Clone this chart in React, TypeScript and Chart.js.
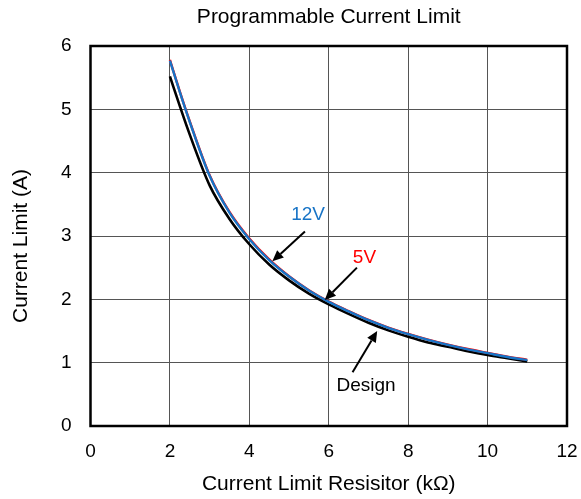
import React, { useEffect, useRef } from "react";
import { Chart, registerables } from "chart.js";

Chart.register(...registerables);

const resistance = [2, 2.25, 2.5, 3, 3.5, 4, 4.5, 5, 5.5, 6, 6.5, 7, 7.5, 8, 8.5, 9, 9.5, 10, 10.5, 11];
const design = [5.52, 5.05, 4.6, 3.8, 3.27, 2.87, 2.55, 2.3, 2.09, 1.92, 1.77, 1.63, 1.51, 1.41, 1.32, 1.25, 1.18, 1.12, 1.07, 1.02];
const v5 = [5.78, 5.28, 4.81, 3.96, 3.38, 2.96, 2.63, 2.365, 2.145, 1.965, 1.815, 1.675, 1.555, 1.455, 1.365, 1.285, 1.215, 1.155, 1.095, 1.045];
const v12 = [5.77, 5.27, 4.8, 3.95, 3.37, 2.95, 2.62, 2.36, 2.14, 1.96, 1.81, 1.67, 1.55, 1.45, 1.36, 1.28, 1.21, 1.15, 1.09, 1.04];

const xTicks = [0, 2, 4, 6, 8, 10, 12];
const yTicks = [0, 1, 2, 3, 4, 5, 6];

const chartTitle = "Programmable Current Limit";
const xTitle = "Current Limit Resisitor (kΩ)";
const yTitle = "Current Limit (A)";

// annotations: label position and arrow (tail -> head) in data units
const annotations = [
  { text: "12V", color: "#1874C6", lx: 5.48, ly: 3.33, tx: 5.4, ty: 3.07, hx: 4.58, hy: 2.6 },
  { text: "5V", color: "#FF0000", lx: 6.9, ly: 2.65, tx: 6.71, ty: 2.5, hx: 5.9, hy: 1.99 },
  { text: "Design", color: "#000000", lx: 6.94, ly: 0.63, tx: 6.6, ty: 0.85, hx: 7.22, hy: 1.5 },
];

const FONT = "Arial, 'Liberation Sans', sans-serif";

const drawPlugin = {
  id: "drawExtras",
  afterDraw(chart: any) {
    const { ctx, chartArea, scales } = chart;
    const { left, right, top, bottom } = chartArea;
    ctx.save();
    // border box
    ctx.strokeStyle = "#000";
    ctx.lineWidth = 2.5;
    ctx.strokeRect(left, top, right - left, bottom - top);

    // title
    ctx.fillStyle = "#000";
    ctx.font = `21px ${FONT}`;
    ctx.textAlign = "center";
    ctx.textBaseline = "middle";
    ctx.fillText(chartTitle, (left + right) / 2, 17);

    // x title
    ctx.fillText(xTitle, (left + right) / 2, 484);

    // y title
    ctx.save();
    ctx.translate(21, (top + bottom) / 2 + 10);
    ctx.rotate(-Math.PI / 2);
    ctx.fillText(yTitle, 0, 0);
    ctx.restore();

    // annotations
    for (const a of annotations) {
      const px = scales.x.getPixelForValue(a.lx);
      const py = scales.y.getPixelForValue(a.ly);
      ctx.fillStyle = a.color;
      ctx.font = `19px ${FONT}`;
      ctx.fillText(a.text, px, py);

      const x1 = scales.x.getPixelForValue(a.tx);
      const y1 = scales.y.getPixelForValue(a.ty);
      const x2 = scales.x.getPixelForValue(a.hx);
      const y2 = scales.y.getPixelForValue(a.hy);
      const ang = Math.atan2(y2 - y1, x2 - x1);
      const headLen = 11;
      const headW = 5;
      const bx = x2 - headLen * Math.cos(ang);
      const by = y2 - headLen * Math.sin(ang);
      ctx.strokeStyle = "#000";
      ctx.lineWidth = 2;
      ctx.beginPath();
      ctx.moveTo(x1, y1);
      ctx.lineTo(bx, by);
      ctx.stroke();
      ctx.fillStyle = "#000";
      ctx.beginPath();
      ctx.moveTo(x2, y2);
      ctx.lineTo(bx + headW * Math.sin(ang), by - headW * Math.cos(ang));
      ctx.lineTo(bx - headW * Math.sin(ang), by + headW * Math.cos(ang));
      ctx.closePath();
      ctx.fill();
    }
    ctx.restore();
  },
};

export default function App() {
  const ref = useRef<HTMLCanvasElement>(null);
  useEffect(() => {
    document.body.style.margin = "0";
    const canvas = ref.current!;
    const mk = (vals: number[]) => resistance.map((x, i) => ({ x, y: vals[i] }));
    const chart = new Chart(canvas, {
      type: "line",
      data: {
        datasets: [
          { label: "12V", data: mk(v12), borderColor: "#1874C6", borderWidth: 2.4, pointRadius: 0, cubicInterpolationMode: "monotone", order: 0 },
          { label: "5V", data: mk(v5), borderColor: "#FF0000", borderWidth: 2.4, pointRadius: 0, cubicInterpolationMode: "monotone", order: 1 },
          { label: "Design", data: mk(design), borderColor: "#000000", borderWidth: 2.6, pointRadius: 0, cubicInterpolationMode: "monotone", order: 2 },
        ],
      },
      options: {
        responsive: false,
        animation: false,
        layout: { padding: { top: 46, right: 14, left: 0, bottom: 0 } },
        plugins: { legend: { display: false }, tooltip: { enabled: false }, title: { display: false } },
        scales: {
          x: {
            type: "linear",
            min: 0,
            max: 12,
            afterBuildTicks: (s: any) => { s.ticks = xTicks.map((v) => ({ value: v })); },
            afterFit: (s: any) => { s.height = 73; s.paddingLeft = 0; s.paddingRight = 0; },
            grid: { color: "#555", lineWidth: 1, drawTicks: false },
            border: { display: false },
            ticks: { color: "#000", font: { size: 19, family: FONT }, padding: 14, maxRotation: 0 },
          },
          y: {
            type: "linear",
            min: 0,
            max: 6,
            afterBuildTicks: (s: any) => { s.ticks = yTicks.map((v) => ({ value: v })); },
            afterFit: (s: any) => { s.width = 90.5; s.paddingTop = 0; s.paddingBottom = 0; },
            grid: { color: "#555", lineWidth: 1, drawTicks: false },
            border: { display: false },
            ticks: { color: "#000", font: { size: 19, family: FONT }, padding: 19 },
          },
        },
      },
      plugins: [drawPlugin],
    } as any);
    return () => chart.destroy();
  }, []);
  return (
    <div style={{ position: "fixed", left: 0, top: 0, width: 581, height: 499, background: "#fff" }}>
      <canvas ref={ref} width={581} height={499} style={{ width: 581, height: 499, display: "block" }} />
    </div>
  );
}
